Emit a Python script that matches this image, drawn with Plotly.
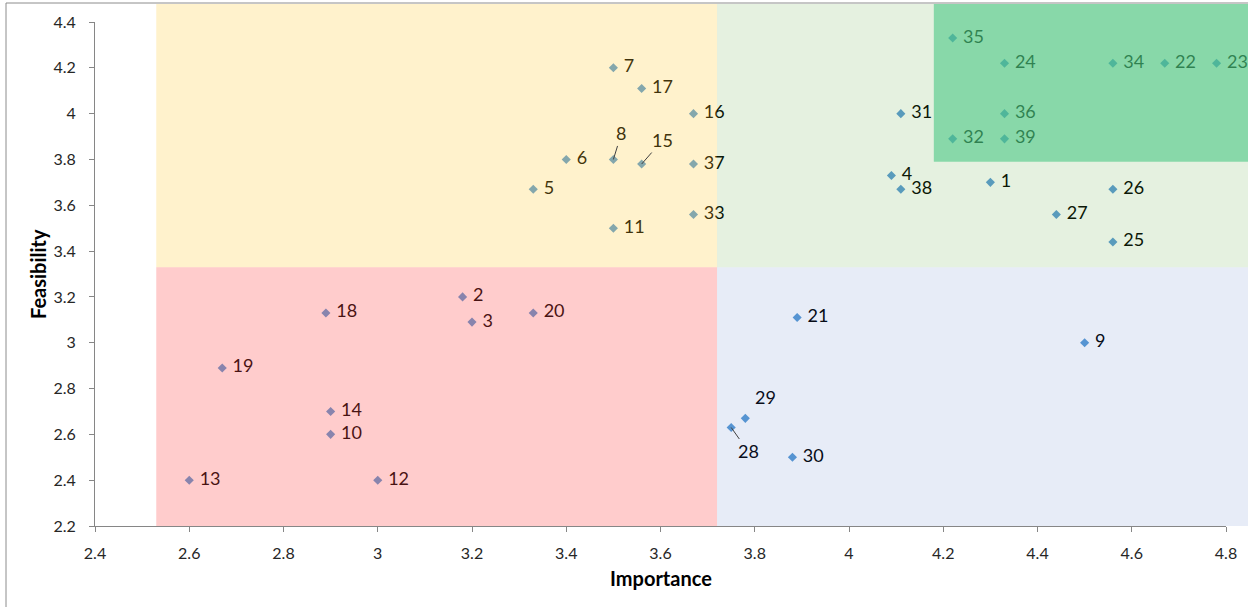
import plotly.graph_objects as go

# ---------------- data ----------------
labels = list(range(1, 40))
importance = [4.30, 3.18, 3.20, 4.09, 3.33, 3.40, 3.50, 3.50, 4.50, 2.90,
              3.50, 3.00, 2.60, 2.90, 3.56, 3.67, 3.56, 2.89, 2.67, 3.33,
              3.89, 4.67, 4.78, 4.33, 4.56, 4.56, 4.44, 3.75, 3.78, 3.88,
              4.11, 4.22, 3.67, 4.56, 4.22, 4.33, 3.67, 4.11, 4.33]
feasibility = [3.70, 3.20, 3.09, 3.73, 3.67, 3.80, 4.20, 3.80, 3.00, 2.60,
               3.50, 2.40, 2.40, 2.70, 3.78, 4.00, 4.11, 3.13, 2.89, 3.13,
               3.11, 4.22, 4.22, 4.22, 3.44, 3.67, 3.56, 2.63, 2.67, 2.50,
               4.00, 3.89, 3.56, 4.22, 4.33, 4.00, 3.78, 3.67, 3.89]

x_title = "Importance"
y_title = "Feasibility"

X_RANGE = [2.4, 4.8]
Y_RANGE = [2.2, 4.4]
# quadrant boundaries (data units)
X_LOW, X_MID, X_HI = 2.53, 3.72, 4.18
Y_MID, Y_HI = 3.33, 3.79

# ---------------- style ----------------
W, H = 1248, 607
ML, MR, MT, MB = 95, 22, 22, 81
PW, PH = W - ML - MR, H - MT - MB
FONT = "Lato, 'Open Sans', sans-serif"
AXIS_GREY = "#868686"
MARKER_BLUE = "#5B9BD5"

# labels placed with pixel offsets (dx, dy, leader line)
callouts = {8: (8, -26, True), 15: (21, -24, True),
            28: (17, 24, True), 29: (20, -21, False)}
callout_color = {8: "rgb(64,51,13)", 15: "rgb(64,51,13)",
                 28: "rgb(10,14,28)", 29: "rgb(10,14,28)"}


def xp(v):
    return (v - X_RANGE[0]) / (X_RANGE[1] - X_RANGE[0])


def yp(v):
    return (v - Y_RANGE[0]) / (Y_RANGE[1] - Y_RANGE[0])


TOP = 1 + (MT - 4) / PH
RIGHT = 1 + (MR + 10) / PW

fig = go.Figure()

fig.add_trace(go.Scatter(
    x=importance, y=feasibility, mode="markers",
    marker=dict(symbol="diamond", size=7, color=MARKER_BLUE),
    hoverinfo="skip", showlegend=False))

texts = ["" if l in callouts else str(l) for l in labels]
fig.add_trace(go.Scatter(
    x=importance, y=feasibility, mode="markers+text", text=texts,
    textposition="middle right",
    textfont=dict(family=FONT, size=18, color="#000000"),
    marker=dict(size=15, color="rgba(0,0,0,0)"),
    cliponaxis=False, hoverinfo="skip", showlegend=False))

annotations = []
for l, x, y in zip(labels, importance, feasibility):
    if l not in callouts:
        continue
    dx, dy, leader = callouts[l]
    if leader:
        annotations.append(dict(
            x=x, y=y, xref="x", yref="y", text=str(l), showarrow=True,
            arrowhead=0, arrowwidth=1, arrowcolor="#404040", ax=dx, ay=dy,
            font=dict(family=FONT, size=18, color=callout_color[l])))
    else:
        annotations.append(dict(
            x=x, y=y, xref="x", yref="y", text=str(l), showarrow=False,
            xshift=dx, yshift=-dy,
            font=dict(family=FONT, size=18, color=callout_color[l])))

annotations.append(dict(
    text=x_title, x=0.5, y=0, xref="paper", yref="paper", showarrow=False,
    xanchor="center", yanchor="middle", yshift=-(578 - (H - MB)),
    font=dict(family=FONT, size=20, color="#000000", weight="bold")))
annotations.append(dict(
    text=y_title, x=0, y=0.5, xref="paper", yref="paper", showarrow=False,
    xanchor="center", yanchor="middle", xshift=-(ML - 38), textangle=-90,
    font=dict(family=FONT, size=20, color="#000000", weight="bold")))

regions = [
    (xp(X_LOW), xp(X_MID), yp(Y_MID), TOP, "rgba(255,204,51,0.25)"),
    (xp(X_LOW), xp(X_MID), 0, yp(Y_MID), "rgba(255,73,73,0.28)"),
    (xp(X_MID), RIGHT, yp(Y_MID), TOP, "rgba(80,160,50,0.15)"),
    (xp(X_MID), RIGHT, 0, yp(Y_MID), "rgba(60,95,190,0.12)"),
    (xp(X_HI), RIGHT, yp(Y_HI), TOP, "rgba(74,200,131,0.6)"),
]
shapes = []
for x0, x1, y0, y1, c in regions:
    shapes.append(dict(type="rect", xref="paper", yref="paper",
                       x0=x0, x1=x1, y0=y0, y1=y1, fillcolor=c,
                       line=dict(width=0), layer="above"))
shapes.append(dict(type="rect", xref="paper", yref="paper",
                   x0=(6 - ML) / PW, x1=1.2, y0=-0.4, y1=1 + (MT - 3) / PH,
                   line=dict(color="#8c8c8c", width=1),
                   fillcolor="rgba(0,0,0,0)", layer="above"))

axis_common = dict(
    showgrid=False, zeroline=False, showline=True, linecolor=AXIS_GREY,
    linewidth=1, ticks="outside", ticklen=5, tickcolor=AXIS_GREY,
    tickfont=dict(family=FONT, size=16, color="#262626"), dtick=0.2)

fig.update_layout(
    width=W, height=H,
    margin=dict(l=ML, r=MR, t=MT, b=MB),
    paper_bgcolor="white", plot_bgcolor="white",
    xaxis=dict(range=X_RANGE, tick0=2.4, ticklabelstandoff=8, **axis_common),
    yaxis=dict(range=Y_RANGE, tick0=2.2, ticklabelstandoff=10, **axis_common),
    shapes=shapes, annotations=annotations, showlegend=False)

fig.write_html("out.html",
               config={"displayModeBar": False},
               post_script="document.body.style.margin='0';"
                           "document.body.style.overflow='hidden';")
